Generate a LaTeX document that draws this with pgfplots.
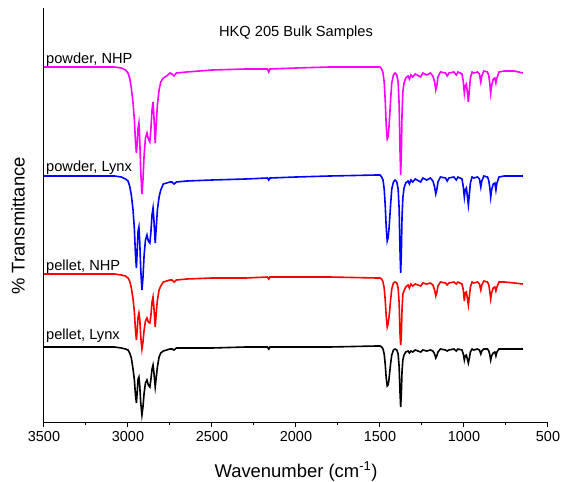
\documentclass[border=0pt]{standalone}
\usepackage{fontspec}
\setmainfont{Liberation Sans}
\usepackage{pgfplots}
\usepackage{pgfplotstable}
\pgfplotsset{compat=1.18}
\definecolor{cmag}{RGB}{255,0,255}
\definecolor{cblu}{RGB}{0,0,255}
\definecolor{cred}{RGB}{255,0,0}
% columns: wavenumber, powder NHP, powder Lynx, pellet NHP, pellet Lynx (plotted in picture rows, downward)
\pgfplotstableread{
w pn pl en el
3500 67 176 274 347
3200 67 176 274 347
3080 67 176 274 347
3040 68 177 275 348
3015 70 179 276 349
3000 73 181 278 350
2990 78 186 281 353
2980 88 195 288 358
2970 103 210 299 369
2962 120 229 312 380
2956 140 253 329 394
2950 153 268 340 403
2946 145 254 332 394
2940 128 231 317 379
2935 123 227 313 377
2930 140 242 319 386
2924 172 270 337 403
2917 194 290 349 415
2911 180 278 342 407
2904 155 255 330 393
2896 138 240 321 383
2887 133 235 318 380
2879 139 241 322 385
2870 142 243 323 387
2864 130 233 316 380
2857 110 215 302 369
2851 102 208 297 365
2846 115 219 307 372
2838 143 243 327 387
2832 125 228 313 378
2825 105 210 300 367
2815 90 197 290 357
2805 82 190 286 353
2790 78 184 282 351
2770 76 183 281 350
2750 73 182 280 349
2738 74 182 280 349
2726 76 184 282 350
2712 73 182 280 348
2650 72 181 279 348
2500 70 180 278 348
2300 69 179 278 347
2170 69 178 277 347
2162 72 180 279 349
2155 69 178 277 347
2000 68 177 277 347
1800 67 176 277 347
1520 67 175 278 346
1500 67 175 278 346
1490 69 177 279 347
1482 73 180 282 349
1475 82 189 288 354
1469 100 205 300 364
1463 125 227 316 378
1457 139 241 327 386
1452 137 238 324 385
1447 128 230 318 380
1442 115 218 310 372
1437 100 205 300 364
1430 83 189 289 355
1420 75 182 283 350
1410 73 180 282 349
1400 75 182 283 350
1392 82 189 288 354
1386 105 209 303 367
1381 150 250 333 392
1377 175 273 345 407
1373 155 254 336 394
1369 115 218 310 372
1364 92 198 294 360
1357 83 188 291 355
1347 78 183 287 352
1333 76 181 285 351
1325 79 184 288 353
1316 75 180 284 351
1305 77 182 286 352
1290 74 179 284 350
1258 77 182 286 352
1245 73 178 283 350
1222 75 180 284 351
1200 73 178 283 350
1185 76 181 285 351
1175 82 187 290 354
1168 90 194 296 358
1162 86 190 293 356
1155 77 182 286 352
1140 72 177 282 349
1110 73 178 283 350
1100 76 181 285 351
1090 73 178 283 350
1060 72 177 282 349
1046 75 180 284 351
1036 72 177 282 349
1012 74 179 284 350
1004 82 187 290 354
998 93 197 301 360
993 86 190 293 356
986 84 188 292 355
980 92 196 298 359
974 102 205 305 363
969 92 196 298 359
962 78 183 287 352
952 72 177 282 349
942 73 178 283 350
920 72 177 282 349
908 74 179 284 350
900 82 187 290 354
894 76 181 285 351
882 71 176 281 349
860 72 177 282 349
852 76 181 285 351
846 84 188 292 355
841 93 197 299 360
836 86 190 293 356
826 79 184 288 353
816 78 183 287 352
810 83 190 291 356
804 78 183 287 352
792 72 177 282 349
760 71 176 282 349
700 71 176 283 349
650 73 176 284 349
}\spectra
\begin{document}
\begin{tikzpicture}
\useasboundingbox (-44bp,-60bp) rectangle (517bp,422bp);
\begin{axis}[
  scale only axis,
  width=504bp, height=414bp,
  xmin=500, xmax=3500, x dir=reverse,
  ymin=8, ymax=422, y dir=reverse,
  axis x line*=bottom, axis y line*=left,
  axis line style={line width=1bp, -},
  ytick=\empty,
  xtick={500,1000,...,3500},
  minor x tick num=1,
  tick align=outside,
  major tick length=5bp, minor tick length=3bp,
  every tick/.style={black, line width=1bp},
  /pgf/number format/assume math mode=true,
  /pgf/number format/set thousands separator={},
  xticklabel style={font=\fontsize{14.5}{17}\selectfont, inner sep=0pt, yshift=-4bp},
  xlabel={Wavenumber (cm\textsuperscript{-1})},
  xlabel style={font=\fontsize{18.5}{22}\selectfont, at={(axis description cs:0.5,0)}, anchor=base, yshift=-55bp},
  clip=false,
]
\addplot[cmag, line width=1.6bp] table[x=w, y=pn] {\spectra};
\addplot[cblu, line width=1.6bp] table[x=w, y=pl] {\spectra};
\addplot[cred, line width=1.6bp] table[x=w, y=en] {\spectra};
\addplot[black, line width=1.6bp] table[x=w, y=el] {\spectra};
\node[anchor=base, font=\fontsize{14.7}{17}\selectfont] at (axis cs:2000,37) {HKQ 205 Bulk Samples};
\node[anchor=base west, inner sep=0pt, font=\fontsize{14.7}{17}\selectfont] at (axis cs:3488,63) {powder, NHP};
\node[anchor=base west, inner sep=0pt, font=\fontsize{14.7}{17}\selectfont] at (axis cs:3488,171) {powder, Lynx};
\node[anchor=base west, inner sep=0pt, font=\fontsize{14.7}{17}\selectfont] at (axis cs:3488,270) {pellet, NHP};
\node[anchor=base west, inner sep=0pt, font=\fontsize{14.7}{17}\selectfont] at (axis cs:3488,339) {pellet, Lynx};
\end{axis}
\node[rotate=90, anchor=center, inner sep=0pt, font=\fontsize{18.5}{22}\selectfont] at (-26bp,196bp) {\% Transmittance};
\end{tikzpicture}
\end{document}
